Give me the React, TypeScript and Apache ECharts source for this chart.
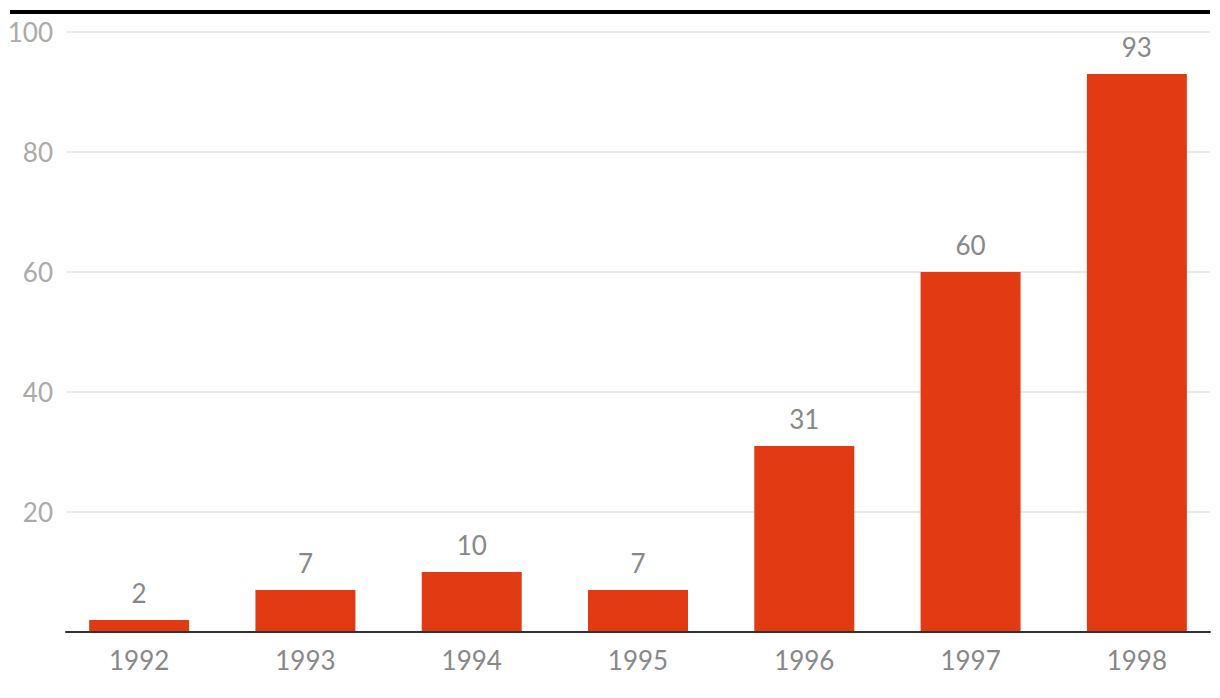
import React, { useEffect, useRef } from "react";
import * as echarts from "echarts";

const categories = ["1992", "1993", "1994", "1995", "1996", "1997", "1998"];
const values = [2, 7, 10, 7, 31, 60, 93];
const yTicks = [0, 20, 40, 60, 80, 100];

const FONT = "Lato, 'Open Sans', sans-serif";

export default function App() {
  const ref = useRef<HTMLDivElement>(null);
  useEffect(() => {
    if (!ref.current) return;
    const chart = echarts.init(ref.current, null, { renderer: "svg" });
    chart.setOption({
      animation: false,
      backgroundColor: "#ffffff",
      textStyle: { fontFamily: FONT },
      graphic: [
        {
          type: "rect",
          shape: { x: 10, y: 10, width: 1200, height: 4 },
          style: { fill: "#000000" },
          silent: true,
        },
      ],
      grid: [
        { left: 66, right: 10, top: 32, bottom: 66 },
        { left: 56, width: 1166.67, top: 32, bottom: 66 },
      ],
      xAxis: [
        {
          gridIndex: 0,
          type: "category",
          data: categories,
          axisLine: { show: true, lineStyle: { color: "#333333", width: 2 } },
          axisTick: { show: false },
          axisLabel: { show: false },
          z: 5,
        },
        {
          gridIndex: 1,
          type: "category",
          data: categories,
          axisLine: { show: false },
          axisTick: { show: false },
          axisLabel: {
            show: true,
            color: "#888888",
            fontSize: 26,
            fontFamily: FONT,
            margin: 15,
          },
        },
      ],
      yAxis: [
        {
          gridIndex: 0,
          type: "value",
          min: yTicks[0],
          max: yTicks[yTicks.length - 1],
          interval: 20,
          axisLine: { show: false },
          axisTick: { show: false },
          axisLabel: {
            color: "#aaaaaa",
            fontSize: 26,
            fontFamily: FONT,
            margin: 13,
            formatter: (v: number) => (v === 0 ? "" : String(v)),
          },
          splitLine: { show: true, lineStyle: { color: "#e3e3e3", width: 1.5 } },
        },
        {
          gridIndex: 1,
          type: "value",
          min: 0,
          max: 100,
          show: false,
          splitLine: { show: false },
        },
      ],
      series: [
        {
          type: "bar",
          xAxisIndex: 1,
          yAxisIndex: 1,
          data: values,
          barWidth: 100,
          itemStyle: { color: "#e23a13" },
          label: {
            show: true,
            position: "top",
            distance: 14,
            color: "#888888",
            fontSize: 26,
            fontFamily: FONT,
          },
          z: 3,
        },
      ],
    });
    return () => chart.dispose();
  }, []);
  return (
    <div
      ref={ref}
      style={{ position: "fixed", left: 0, top: 0, width: 1220, height: 698 }}
    />
  );
}
